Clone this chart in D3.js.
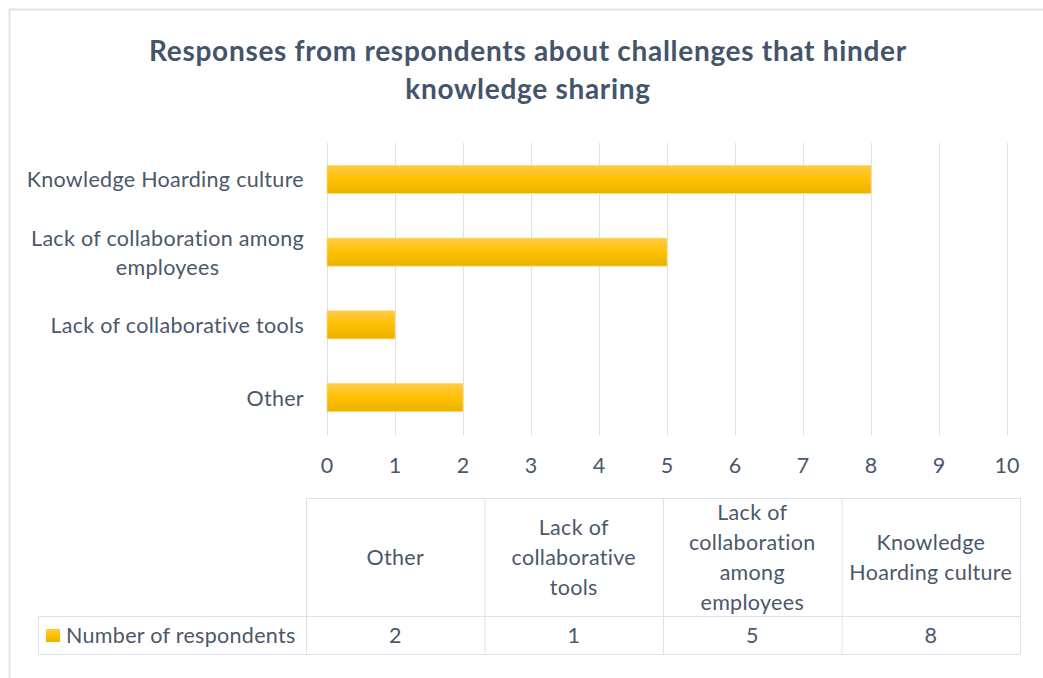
<!DOCTYPE html>
<html>
<head>
<meta charset="utf-8">
<script src="https://cdn.jsdelivr.net/npm/d3@7"></script>
<style>
  body { margin: 0; background: #fff; }
  text { font-family: Lato, "Open Sans", sans-serif; }
</style>
</head>
<body>
<div id="canvas"></div>
<script>
// data, top to bottom as drawn on the chart
const categories = ["Knowledge Hoarding culture", "Lack of collaboration among employees", "Lack of collaborative tools", "Other"];
const axisLabels = [["Knowledge Hoarding culture"], ["Lack of collaboration among", "employees"], ["Lack of collaborative tools"], ["Other"]];
const values = [8, 5, 1, 2];
const xTicks = [0, 1, 2, 3, 4, 5, 6, 7, 8, 9, 10];
// data table (order as in the table)
const tableCats = ["Other", "Lack of collaborative tools", "Lack of collaboration among employees", "Knowledge Hoarding culture"];
const tableHeaders = [["Other"], ["Lack of", "collaborative", "tools"], ["Lack of", "collaboration", "among", "employees"], ["Knowledge", "Hoarding culture"]];
const seriesName = "Number of respondents";

const width = 1043, height = 678;
const margin = { top: 143, left: 327, bottom: 244, right: 36 };
const iheight = height - margin.top - margin.bottom;
const textColor = "#4b576a";
const fs = "21.5px";

const svg = d3.select("#canvas").append("svg").attr("width", width).attr("height", height);

const defs = svg.append("defs");
const grad = defs.append("linearGradient").attr("id", "bargrad").attr("x1", 0).attr("y1", 0).attr("x2", 0).attr("y2", 1);
grad.append("stop").attr("offset", "0%").attr("stop-color", "#ffcb45");
grad.append("stop").attr("offset", "50%").attr("stop-color", "#ffc000");
grad.append("stop").attr("offset", "100%").attr("stop-color", "#e8b200");

// chart frame
svg.append("path").attr("d", `M9.5,${height} V9.5 H${width}`)
  .attr("fill", "none").attr("stroke", "#dfe4ec").attr("stroke-width", 2);

// title
const title = svg.append("text").attr("text-anchor", "middle")
  .style("font-size", "28px").style("font-weight", "bold").style("letter-spacing", "0.7px")
  .attr("fill", "#44546a");
title.append("tspan").attr("x", 528).attr("y", 61).text("Responses from respondents about challenges that hinder");
title.append("tspan").attr("x", 528).attr("y", 99).text("knowledge sharing");

const g = svg.append("g").attr("transform", `translate(${margin.left},${margin.top})`);

const x = d3.scaleLinear().domain([0, 10]).range([0, 680]);
const y = d3.scaleBand().domain(categories).range([0, iheight]).paddingInner(0.615).paddingOuter(0.3075);

// gridlines
g.selectAll(".grid").data(xTicks).enter().append("line")
  .attr("x1", d => x(d) + 0.5).attr("x2", d => x(d) + 0.5)
  .attr("y1", 0).attr("y2", 292)
  .attr("stroke", "#dde2ea").attr("stroke-width", 1);

// bars
g.selectAll("rect.bar").data(categories).enter().append("rect")
  .attr("class", "bar")
  .attr("x", x(0))
  .attr("y", d => y(d))
  .attr("height", y.bandwidth())
  .attr("width", (d, i) => x(values[i]))
  .attr("fill", "url(#bargrad)")
  .attr("stroke", "#ffd869").attr("stroke-width", 0.8);

// x tick labels
g.selectAll(".xt").data(xTicks).enter().append("text")
  .attr("x", d => x(d)).attr("y", 330)
  .attr("text-anchor", "middle").style("font-size", fs).attr("fill", textColor)
  .text(d => d);

// y labels - multi-line ones are centred on the widest line, right edge fixed
categories.forEach((c, i) => {
  const lines = axisLabels[i];
  const cy = y(c) + y.bandwidth() / 2;
  const t = g.append("text").attr("text-anchor", "middle").style("font-size", fs)
    .style("letter-spacing", "0.3px").attr("fill", textColor);
  const spans = lines.map((l, j) => t.append("tspan")
    .attr("y", cy + 8 + (j - (lines.length - 1) / 2) * 29)
    .text(l));
  const maxW = d3.max(spans, s => s.node().getComputedTextLength());
  spans.forEach(s => s.attr("x", -23 - maxW / 2));
});

// data table
const colX = d3.scaleBand().domain(tableCats).range([306, 1020]);
const tTop = 498, tMid = 616, tBot = 654, legL = 38;
const border = "#dde2ea";
const tg = svg.append("g");
tg.append("line").attr("x1", 306).attr("x2", 1020).attr("y1", tTop + 0.5).attr("y2", tTop + 0.5).attr("stroke", border);
tg.append("line").attr("x1", legL).attr("x2", 1020).attr("y1", tMid + 0.5).attr("y2", tMid + 0.5).attr("stroke", border);
tg.append("line").attr("x1", legL).attr("x2", 1020).attr("y1", tBot + 0.5).attr("y2", tBot + 0.5).attr("stroke", border);
tg.append("line").attr("x1", legL + 0.5).attr("x2", legL + 0.5).attr("y1", tMid).attr("y2", tBot).attr("stroke", border);
tg.selectAll(".vl").data(tableCats.concat(["end"])).enter().append("line")
  .attr("x1", (d, i) => 306 + i * colX.bandwidth() + 0.5)
  .attr("x2", (d, i) => 306 + i * colX.bandwidth() + 0.5)
  .attr("y1", tTop).attr("y2", tBot).attr("stroke", border);

// headers
tableCats.forEach((c, i) => {
  const lines = tableHeaders[i];
  const cx = colX(c) + colX.bandwidth() / 2;
  const cy = (tTop + tMid) / 2;
  const t = tg.append("text").attr("text-anchor", "middle").style("font-size", fs)
    .style("letter-spacing", "0.3px").attr("fill", textColor);
  lines.forEach((l, j) => {
    t.append("tspan").attr("x", cx)
      .attr("y", cy + 8 + (j - (lines.length - 1) / 2) * 30)
      .text(l);
  });
});

// values row
tg.selectAll(".val").data(tableCats).enter().append("text")
  .attr("x", d => colX(d) + colX.bandwidth() / 2)
  .attr("y", (tMid + tBot) / 2 + 8)
  .attr("text-anchor", "middle").style("font-size", fs).attr("fill", textColor)
  .text(d => values[categories.indexOf(d)]);

// legend key
tg.append("rect").attr("x", 46).attr("y", 629).attr("width", 14).attr("height", 13).attr("fill", "url(#bargrad)");
tg.append("text").attr("x", 66).attr("y", (tMid + tBot) / 2 + 8)
  .style("font-size", fs).style("letter-spacing", "0.3px").attr("fill", textColor).text(seriesName);
</script>
</body>
</html>
